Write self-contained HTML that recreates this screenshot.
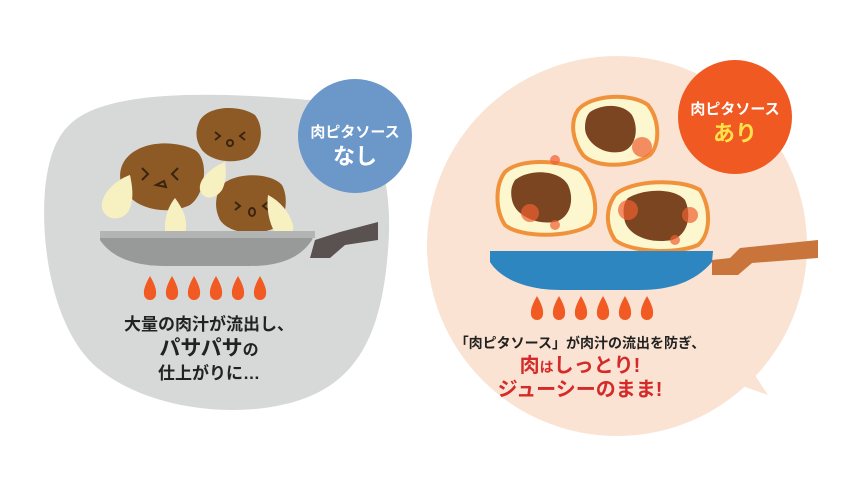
<!DOCTYPE html>
<html><head><meta charset="utf-8"><style>
html,body{margin:0;padding:0;background:#fff;}
svg{display:block;font-family:"Liberation Sans","Noto Sans CJK JP",sans-serif;}
</style></head><body>
<svg width="844" height="495" viewBox="0 0 844 495" xmlns="http://www.w3.org/2000/svg">
<!-- left gray blob -->
<path d="M75 120 C120 85 250 95 310 100 C370 105 395 170 388 250 C382 330 360 380 300 400 C240 420 150 410 100 370 C55 335 40 250 45 190 C48 160 55 135 75 120 Z" fill="#d7d9d8"/>
<!-- meats left -->
<path d="M125 160 C140 140 175 140 195 150 C210 160 205 195 190 205 C170 215 140 210 128 195 C118 185 118 170 125 160Z" fill="#8d5a26"/>
<path d="M200 120 C210 105 240 105 255 115 C265 128 262 150 248 158 C230 165 210 160 202 150 C195 140 195 130 200 120Z" fill="#8d5a26"/>
<path d="M222 185 C235 172 270 172 282 185 C290 200 285 225 270 230 C250 236 228 232 220 220 C214 208 215 195 222 185Z" fill="#8d5a26"/>
<g stroke="#3a2410" stroke-width="2" fill="none">
<path d="M142 168 l6 6 -6 6"/><path d="M178 168 l-6 6 6 6"/><path d="M156 185 l8 -4 2 6z"/>
<path d="M215 132 l5 4 -5 4"/><path d="M245 132 l-5 4 5 4"/><circle cx="230" cy="143" r="3"/>
<path d="M235 202 l5 4 -5 4"/><path d="M268 202 l-5 4 5 4"/><ellipse cx="252" cy="212" rx="3" ry="4"/>
</g>
<g fill="#f7f1c2">
<path d="M130 175 C115 180 100 195 102 208 C105 220 120 222 128 212 C135 200 132 185 130 175Z"/>
<path d="M175 198 C165 210 162 230 168 240 C175 246 185 240 186 228 C187 215 180 205 175 198Z"/>
<path d="M225 162 C210 168 198 180 200 190 C203 200 215 200 222 190 C227 180 226 170 225 162Z"/>
<path d="M268 195 C266 210 270 230 280 238 C290 242 296 232 292 222 C288 210 278 200 268 195Z"/>
</g>
<!-- left pan -->
<path d="M100 231 L315 231 L312 240 C300 258 280 266 250 266 L165 266 C130 266 110 255 100 240 Z" fill="#989a99"/>
<rect x="100" y="231" width="215" height="7" fill="#b3b5b4"/>
<path d="M315 240 L340 232 L378 222 L378 240 L345 245 L330 258 L310 258 Z" fill="#5a5250"/>
<!-- left flames -->
<g fill="#f15a22">
<path d="M150 276 q-7 12 -6 18 a6 6 0 0 0 12 0 q1 -6 -6 -18z"/>
<path d="M172 276 q-7 12 -6 18 a6 6 0 0 0 12 0 q1 -6 -6 -18z"/>
<path d="M194 276 q-7 12 -6 18 a6 6 0 0 0 12 0 q1 -6 -6 -18z"/>
<path d="M216 276 q-7 12 -6 18 a6 6 0 0 0 12 0 q1 -6 -6 -18z"/>
<path d="M238 276 q-7 12 -6 18 a6 6 0 0 0 12 0 q1 -6 -6 -18z"/>
<path d="M260 276 q-7 12 -6 18 a6 6 0 0 0 12 0 q1 -6 -6 -18z"/>
</g>
<g fill="#222" font-weight="bold" text-anchor="middle">
<text x="209" y="330" font-size="17">大量の肉汁が流出し、</text>
<text x="209" y="355" font-size="21">パサパサ<tspan font-size="16">の</tspan></text>
<text x="209" y="379" font-size="17">仕上がりに…</text>
</g>
<!-- blue circle -->
<circle cx="355" cy="136" r="57" fill="#6b97c9"/>
<g fill="#fff" font-weight="bold" text-anchor="middle">
<text x="355" y="137" font-size="15">肉ピタソース</text>
<text x="355" y="164" font-size="22">なし</text>
</g>
<!-- right peach bubble -->
<path d="M745 360 L768 395 L725 380 Z" fill="#fbe3d3"/>
<circle cx="617" cy="246" r="190" fill="#fbe3d3"/>
<!-- right meats -->
<g fill="#fdf7cf" stroke="#f0923c" stroke-width="4">
<path d="M505 172 C520 158 560 160 580 170 C595 185 600 215 590 225 C570 238 520 238 505 225 C495 210 495 185 505 172Z"/>
<path d="M578 110 C590 95 630 92 648 105 C660 120 660 145 650 155 C630 168 595 168 583 155 C572 140 570 122 578 110Z"/>
<path d="M615 195 C630 180 680 178 700 190 C712 210 710 235 698 245 C675 255 630 252 615 240 C605 225 606 208 615 195Z"/>
</g>
<g fill="#7a4520">
<path d="M515 180 C530 168 560 170 568 185 C575 200 570 218 555 222 C535 225 515 215 512 200 C510 190 512 185 515 180Z"/>
<path d="M590 112 C605 102 625 105 632 115 C640 130 635 150 620 152 C600 155 585 140 585 128 C585 120 587 115 590 112Z"/>
<path d="M628 198 C645 188 675 188 685 200 C692 215 688 235 672 240 C650 244 630 236 625 222 C622 210 624 202 628 198Z"/>
</g>
<g fill="#f06030" opacity="0.7">
<circle cx="530" cy="213" r="9"/><circle cx="555" cy="225" r="5"/><circle cx="555" cy="160" r="5"/>
<circle cx="642" cy="147" r="10"/><circle cx="628" cy="210" r="10"/><circle cx="690" cy="215" r="8"/><circle cx="675" cy="240" r="5"/>
</g>
<!-- right pan -->
<path d="M490 251 L713 251 L712 262 C695 282 670 290 640 290 L560 290 C525 290 500 278 490 262 Z" fill="#2e86c1"/>
<path d="M712 260 L730 258 L740 248 L818 240 L818 258 L752 263 L738 275 L712 275 Z" fill="#c8743a"/>
<g fill="#f15a22">
<path d="M537 296 q-7 12 -6 18 a6 6 0 0 0 12 0 q1 -6 -6 -18z"/>
<path d="M559 296 q-7 12 -6 18 a6 6 0 0 0 12 0 q1 -6 -6 -18z"/>
<path d="M581 296 q-7 12 -6 18 a6 6 0 0 0 12 0 q1 -6 -6 -18z"/>
<path d="M603 296 q-7 12 -6 18 a6 6 0 0 0 12 0 q1 -6 -6 -18z"/>
<path d="M625 296 q-7 12 -6 18 a6 6 0 0 0 12 0 q1 -6 -6 -18z"/>
<path d="M647 296 q-7 12 -6 18 a6 6 0 0 0 12 0 q1 -6 -6 -18z"/>
</g>
<g font-weight="bold" text-anchor="middle">
<text x="580" y="348" font-size="14" fill="#222">「肉ピタソース」が肉汁の流出を防ぎ、</text>
<text x="580" y="372" font-size="20" fill="#d42a2a">肉<tspan font-size="14">は</tspan>しっとり!</text>
<text x="580" y="396" font-size="20" fill="#d42a2a">ジューシーのまま!</text>
</g>
<!-- orange circle -->
<circle cx="735" cy="117" r="57" fill="#f05a22"/>
<g font-weight="bold" text-anchor="middle">
<text x="735" y="114" font-size="15" fill="#fff">肉ピタソース</text>
<text x="735" y="141" font-size="22" fill="#ffe14a">あり</text>
</g>
</svg>
</body></html>
